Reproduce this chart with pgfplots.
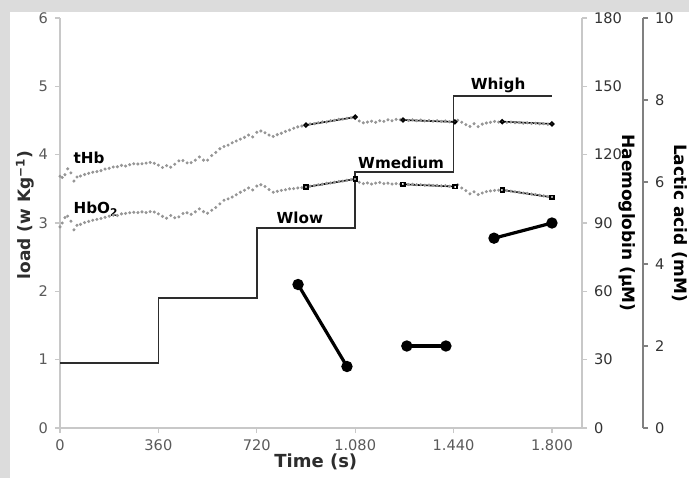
\documentclass[border=0pt]{standalone}
\usepackage{fontspec}
\setmainfont{DejaVu Sans}
\usepackage{pgfplots}
\usepackage{pgfplotstable}
\pgfplotsset{compat=1.18}
\definecolor{bggray}{RGB}{220,220,220}
\definecolor{axisgray}{RGB}{200,200,200}
\definecolor{tickgray}{RGB}{90,90,90}
\definecolor{dotgray}{RGB}{150,150,150}
\definecolor{stepgray}{RGB}{45,45,45}

% total haemoglobin (uM)
\pgfplotstableread{
t Hb
0 110.5
8 110.0
18 111.2
28 113.8
40 112.0
51 108.4
62 110.2
75 110.6
90 111.3
105 111.8
120 112.3
135 112.6
150 113.0
165 113.7
180 114.0
195 114.6
210 114.7
225 115.3
240 115.0
255 115.6
270 116.0
285 115.9
300 116.0
315 116.3
330 116.6
345 116.2
360 115.4
375 114.4
390 115.2
405 114.5
420 115.8
435 117.3
450 117.4
465 116.4
480 116.5
495 117.6
510 119.0
525 117.6
540 117.6
555 119.6
570 121.0
585 122.6
600 123.6
615 124.2
630 125.2
645 126.0
660 126.8
675 127.6
690 128.6
705 127.8
720 129.8
735 130.4
750 129.6
765 128.6
780 128.0
795 128.8
810 129.4
825 130.2
840 130.8
855 131.6
870 132.2
885 132.6
900 133.0
915 133.5
930 133.6
945 134.0
960 134.4
975 134.3
990 134.9
1005 135.1
1020 135.5
1035 135.6
1050 136.0
1065 136.2
1080 136.5
1095 134.8
1110 134.0
1125 134.3
1140 134.7
1155 134.2
1170 134.9
1185 134.6
1200 135.3
1215 134.9
1230 135.5
1245 135.3
1260 135.3
1275 135.0
1290 135.3
1305 134.9
1320 135.2
1335 134.8
1350 135.0
1365 134.7
1380 134.9
1395 134.6
1410 134.8
1425 134.4
1440 134.5
1455 135.1
1470 134.2
1485 133.2
1500 132.4
1515 133.6
1530 132.3
1545 133.4
1560 133.9
1575 134.2
1590 134.6
1605 134.3
1620 134.5
1635 134.2
1650 134.3
1665 134.0
1680 134.1
1695 133.8
1710 134.0
1725 133.7
1740 133.8
1755 133.5
1770 133.6
1785 133.3
1800 133.5
}\thb

% oxygenated haemoglobin (uM)
\pgfplotstableread{
t Hb
0 88.3
8 90.0
18 92.4
28 93.0
40 90.8
51 87.0
62 89.0
75 89.4
90 90.2
105 90.7
120 91.2
135 91.6
150 92.0
165 92.5
180 93.0
195 93.4
210 93.3
225 94.0
240 94.2
255 94.5
270 94.7
285 94.6
300 94.9
315 94.6
330 95.0
345 94.8
360 94.0
375 92.9
390 92.1
405 93.3
420 92.3
435 92.7
450 94.2
465 94.5
480 93.8
495 94.9
510 96.2
525 95.0
540 94.3
555 95.6
570 96.8
585 98.4
600 100.0
615 100.6
630 101.4
645 102.4
660 103.5
675 104.4
690 105.4
705 104.5
720 106.2
735 106.8
750 106.0
765 104.7
780 103.5
795 103.9
810 104.3
825 104.6
840 105.0
855 105.1
870 105.4
885 105.5
900 105.8
915 106.2
930 106.4
945 106.8
960 107.0
975 107.4
990 107.6
1005 107.9
1020 108.2
1035 108.4
1050 108.8
1065 109.0
1080 109.3
1095 107.9
1110 107.3
1125 107.6
1140 107.1
1155 107.5
1170 107.8
1185 107.3
1200 107.5
1215 107.1
1230 107.3
1245 107.0
1260 107.0
1275 106.9
1290 107.0
1305 106.8
1320 106.8
1335 106.6
1350 106.7
1365 106.5
1380 106.5
1395 106.3
1410 106.4
1425 106.1
1440 106.0
1455 106.8
1470 105.4
1485 104.2
1500 102.8
1515 103.7
1530 102.5
1545 103.2
1560 103.8
1575 104.1
1590 104.3
1605 104.4
1620 104.5
1635 104.2
1650 104.0
1665 103.7
1680 103.5
1695 103.2
1710 103.0
1725 102.7
1740 102.5
1755 102.2
1770 101.9
1785 101.6
1800 101.3
}\hbo

\pgfplotsset{
  base/.style={
    scale only axis, width=261pt, height=205pt,
    xmin=0, xmax=1910,
    /pgf/number format/1000 sep={.},
    /pgf/number format/assume math mode=true,
    tick label style={font=\fontsize{7.3}{8}\selectfont, text=tickgray},
    axis line style={draw=axisgray, line width=0.8pt, -},
    tick style={draw=axisgray, line width=0.6pt},
    tick align=outside, major tick length=2.5pt,
    label style={font=\fontsize{8.5}{10}\selectfont\bfseries},
  },
}

\begin{document}
\begin{tikzpicture}
\fill[bggray] (-30pt,-25pt) rectangle (314.5pt,214pt);
\fill[white] (-25pt,-25pt) rectangle (314.5pt,208pt);
\path[use as bounding box] (-30pt,-25pt) rectangle (314.5pt,214pt);

% load axis
\begin{axis}[base,
  ymin=0, ymax=6,
  axis x line*=bottom, axis y line*=left,
  xtick={0,360,720,1080,1440,1800},
  ytick={0,1,2,3,4,5,6},
  xlabel={Time (s)}, ylabel={load (w Kg\textsuperscript{−1})},
  xlabel style={at={(rel axis cs:0.49,0)}, anchor=center, yshift=-17pt, text=stepgray, font=\fontsize{9}{10}\selectfont\bfseries},
  ylabel style={at={(rel axis cs:0,0.52)}, anchor=center, yshift=17.5pt, text=stepgray},
]
\addplot[const plot, stepgray, line width=0.8pt] coordinates {
  (0,0.95) (360,1.9) (720,2.93) (1080,3.75) (1440,4.86) (1800,4.86)};
\node[font=\fontsize{7.6}{9}\selectfont\bfseries, anchor=west] at (axis cs:24,3.95) {tHb};
\node[font=\fontsize{7.6}{9}\selectfont\bfseries, anchor=west] at (axis cs:24,3.2) {HbO\textsubscript{2}};
\node[font=\fontsize{7.6}{9}\selectfont\bfseries] at (axis cs:878,3.07) {Wlow};
\node[font=\fontsize{7.6}{9}\selectfont\bfseries] at (axis cs:1248,3.88) {Wmedium};
\node[font=\fontsize{7.6}{9}\selectfont\bfseries] at (axis cs:1603,5.02) {Whigh};
\end{axis}

% haemoglobin axis
\begin{axis}[base,
  ymin=0, ymax=180,
  axis x line=none, axis y line*=right,
  ytick={0,30,60,90,120,150,180},
  yticklabel style={text=black!80},
  ylabel={Haemoglobin (µM)},
  ylabel style={at={(rel axis cs:1,0.5)}, anchor=center, rotate=180, yshift=22.5pt},
]
\addplot[only marks, mark=*, mark size=0.55pt, dotgray] table[x=t, y=Hb] {\thb};
\addplot[only marks, mark=*, mark size=0.55pt, dotgray] table[x=t, y=Hb] {\hbo};
\addplot[black, line width=0.8pt, mark=o, mark size=0.9pt] coordinates {(900,133.0) (1080,136.5)};
\addplot[black, line width=0.8pt, mark=o, mark size=0.9pt] coordinates {(1255,135.2) (1445,134.4)};
\addplot[black, line width=0.8pt, mark=o, mark size=0.9pt] coordinates {(1618,134.5) (1800,133.5)};
\addplot[black, line width=0.8pt, mark=square, mark size=0.9pt] coordinates {(900,105.8) (1080,109.3)};
\addplot[black, line width=0.8pt, mark=square, mark size=0.9pt] coordinates {(1255,107.0) (1445,106.0)};
\addplot[black, line width=0.8pt, mark=square, mark size=0.9pt] coordinates {(1618,104.5) (1800,101.3)};
\end{axis}

% lactic acid data
\begin{axis}[base, ymin=0, ymax=10, hide axis]
\addplot[black, line width=1.6pt, mark=*, mark size=2pt] coordinates {(871,3.5) (1050,1.5)};
\addplot[black, line width=1.6pt, mark=*, mark size=2pt] coordinates {(1269,2.0) (1412,2.0)};
\addplot[black, line width=1.6pt, mark=*, mark size=2pt] coordinates {(1588,4.63) (1800,5.0)};
\end{axis}

% lactic acid axis
\begin{axis}[base, at={(30.5pt,0pt)},
  ymin=0, ymax=10,
  axis x line=none, axis y line*=right,
  axis line style={draw=black!50},
  tick style={draw=black!50},
  ytick={0,2,4,6,8,10},
  yticklabel style={text=black!80},
  ylabel={Lactic acid (mM)},
  ylabel style={at={(rel axis cs:1,0.5)}, anchor=center, rotate=180, yshift=18.5pt},
]
\end{axis}
\end{tikzpicture}
\end{document}
